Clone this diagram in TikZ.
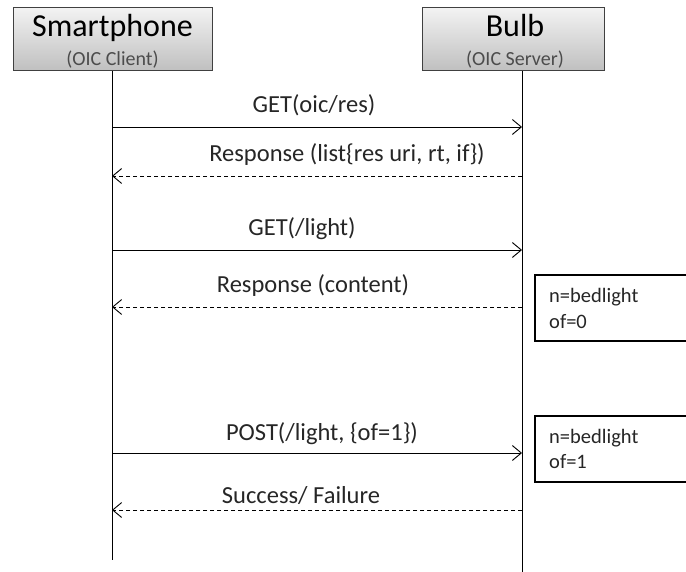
\documentclass[tikz,border=0pt]{standalone}
\usepackage{fontspec}
\setmainfont{Carlito}
\usetikzlibrary{arrows.meta}
\begin{document}
\begin{tikzpicture}[x=1pt,y=-1pt,
  actor/.style={draw=black!75, line width=1pt, top color=black!5, bottom color=black!25,
    minimum width=#1, minimum height=63pt, inner sep=0pt, align=center},
  lifeline/.style={line width=0.9pt},
  msg/.style={line width=0.9pt, -{Straight Barb[length=9pt,width=15pt,line width=0.9pt]}},
  reply/.style={msg, dash pattern=on 4pt off 3pt},
  lbl/.style={anchor=base, font=\fontsize{24.5}{28}\selectfont, text=black!85, inner sep=0pt},
  note/.style={draw=black, line width=1.6pt, fill=white, anchor=north west,
    minimum width=170pt, minimum height=66pt, inner sep=0pt},
  notetext/.style={anchor=base west, font=\fontsize{20.5}{25}\selectfont, align=left, inner sep=0pt, text=black!85}
]
\useasboundingbox (0,0) rectangle (686,572);
% actors
\node[actor=199pt] (sp) at (112.5,39.5) {};
\node[font=\fontsize{32}{34}\selectfont, anchor=base] (spname) at (112.5,37) {Smartphone};
\node[font=\fontsize{20}{22}\selectfont, anchor=base, text=black!70] (sprole) at (112.5,66) {(OIC Client)};
\node[actor=182pt] (bulb) at (513.5,39.5) {};
\node[font=\fontsize{32}{34}\selectfont, anchor=base] (bname) at (515,37) {Bulb};
\node[font=\fontsize{20}{22}\selectfont, anchor=base, text=black!70] (brole) at (515,66) {(OIC Server)};
% lifelines
\coordinate (spend) at (112,560);
\coordinate (bend) at (522,572);
\coordinate (sptop) at (112,71);
\coordinate (btop) at (522,71);
\draw[lifeline] (sptop) -- (spend);
\draw[lifeline] (btop) -- (bend);
% message anchor points
\foreach \i/\y in {1/127,2/176,3/250,4/307,5/453,6/510}{
  \coordinate (s\i) at (112,\y);
  \coordinate (b\i) at (522,\y);
}
\draw[msg] (s1) -- (b1);
\draw[reply] (b2) -- (s2);
\draw[msg] (s3) -- (b3);
\draw[reply] (b4) -- (s4);
\draw[msg] (s5) -- (b5);
\draw[reply] (b6) -- (s6);
% labels
\node[lbl] (l1) at (314,113) {GET(oic/res)};
\node[lbl] (l2) at (347,162) {Response (list\{res uri, rt, if\})};
\node[lbl] (l3) at (302,236) {GET(/light)};
\node[lbl] (l4) at (313,293) {Response (content)};
\node[lbl] (l5) at (322,440) {POST(/light, \{of=1\})};
\node[lbl] (l6) at (301,503) {Success/ Failure};
% notes
\node[note] (n1) at (534,274) {};
\node[notetext] (t1) at (549,328) {n=bedlight\\of=0};
\node[note] (n2) at (534,415) {};
\node[notetext] (t2) at (549,468) {n=bedlight\\of=1};
\end{tikzpicture}
\end{document}
